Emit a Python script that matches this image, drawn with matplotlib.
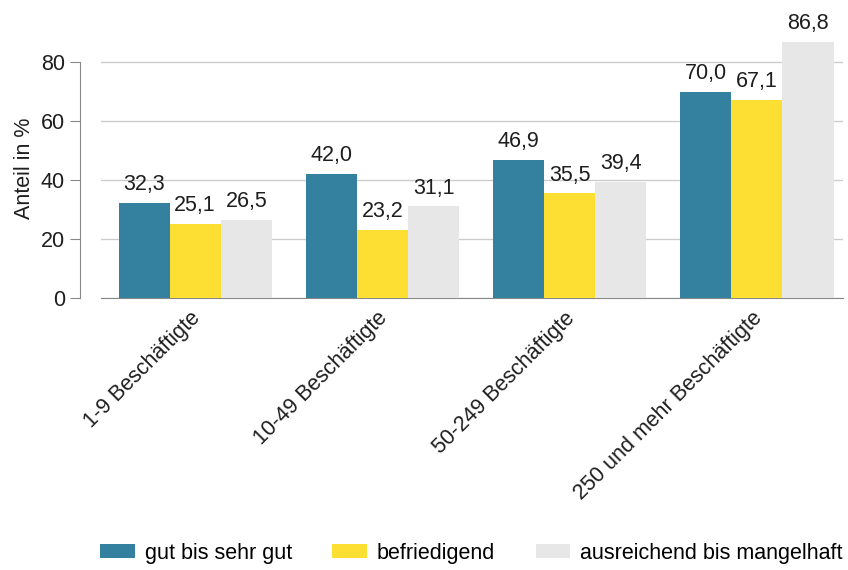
import matplotlib
matplotlib.use("Agg")
import matplotlib.pyplot as plt
import numpy as np

plt.rcParams['font.family'] = ['Liberation Sans', 'DejaVu Sans']

categories = ["1-9 Beschäftigte", "10-49 Beschäftigte", "50-249 Beschäftigte", "250 und mehr Beschäftigte"]
series_names = ["gut bis sehr gut", "befriedigend", "ausreichend bis mangelhaft"]
gut = [32.3, 42.0, 46.9, 70.0]
befriedigend = [25.1, 23.2, 35.5, 67.1]
ausreichend = [26.5, 31.1, 39.4, 86.8]
yticks = [0, 20, 40, 60, 80]
colors = ["#34809f", "#fddf33", "#e7e7e7"]

FS = 15.5
TXT = "#1e1e1e"

W, H = 848, 570
fig = plt.figure(figsize=(W / 100, H / 100), dpi=100)
ax = fig.add_axes([101 / W, (H - 298) / H, (843 - 101) / W, (298 - 38.4) / H])

x = np.arange(len(categories))
bw = 0.273
series = [gut, befriedigend, ausreichend]
for i, (vals, name, c) in enumerate(zip(series, series_names, colors)):
    pos = x + (i - 1) * bw
    ax.bar(pos, vals, width=bw, color=c, label=name, zorder=3)
    for p, v in zip(pos, vals):
        ax.text(p, v + 2.6, f"{v:.1f}".replace(".", ","), ha="center", va="bottom",
                fontsize=FS, color=TXT, zorder=4)

ax.set_xlim(-0.503, 3.46)
ax.set_ylim(0, 88)

for s in ["top", "right"]:
    ax.spines[s].set_visible(False)
ax.spines["left"].set_position(("outward", 15))
ax.spines["left"].set_color("#888888")
ax.spines["left"].set_bounds(0, 80)
ax.spines["bottom"].set_color("#888888")

ax.set_yticks(yticks)
ax.set_yticklabels([str(t) for t in yticks], fontsize=FS, color=TXT)
ax.yaxis.grid(True, color="#cccccc", linewidth=1, zorder=0)
ax.set_axisbelow(True)
ax.tick_params(axis="y", length=7, color="#888888", pad=4)
ax.tick_params(axis="x", length=0, pad=7)

ax.set_xticks(x - 0.03)
ax.set_xticklabels(categories, rotation=45, ha="right", rotation_mode="anchor",
                   fontsize=FS, color=TXT)
ax.set_ylabel("Anteil in %", fontsize=FS, color=TXT, labelpad=4)

fig.legend(loc="center left", bbox_to_anchor=(81 / W, (H - 553) / H), ncol=3, frameon=False,
           fontsize=FS, handlelength=1.6, handleheight=0.65, columnspacing=1.87,
           handletextpad=0.47)

fig.savefig("out.png", dpi=100)
